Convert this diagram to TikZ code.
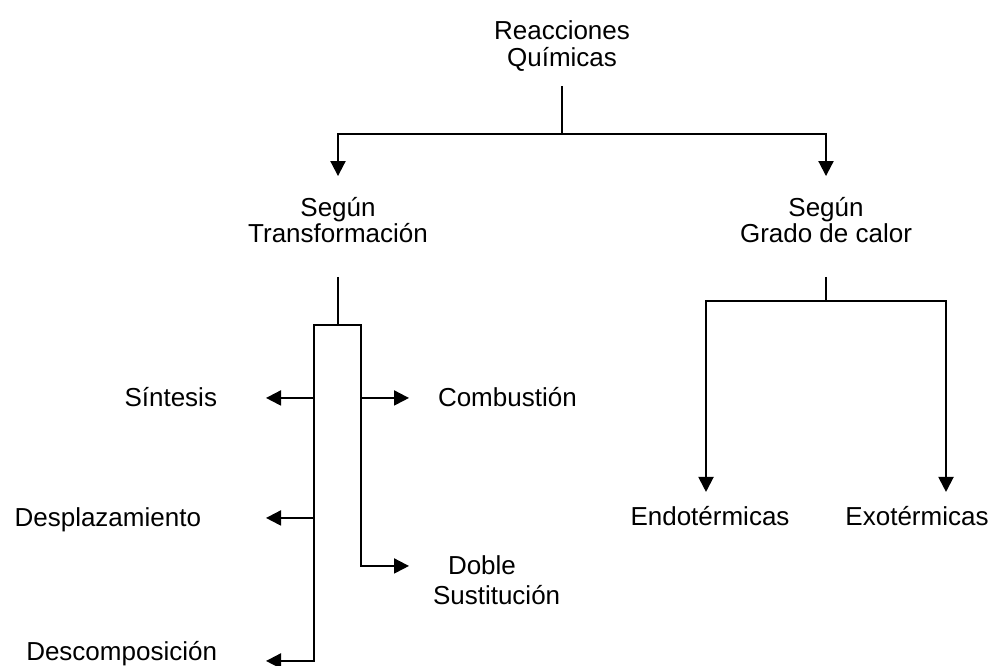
\documentclass[tikz,border=0pt]{standalone}
\usepackage{fontspec}
\setmainfont{Liberation Sans}
\usetikzlibrary{positioning}
\usetikzlibrary{arrows.meta}

\begin{document}
\begin{tikzpicture}
[
x=0.5pt, y=-0.5pt,
line width=1pt,
txt/.style={inner sep=0pt, font=\fontsize{13}{13.25}\selectfont, align=center},
arr/.style={-{Triangle[length=7.5pt,width=7.5pt]}}
]
\useasboundingbox (0,0) rectangle (994,665);

\node[txt] (rq) at (562,46) {Reacciones\\Químicas};
\node[txt] (st) at (338,220) {Según\\Transformación};
\node[txt] (sg) at (826,220) {Según\\Grado de calor};

\node[txt, anchor=base east] (sin) at (218,406) {Síntesis};
\node[txt, anchor=base west] (com) at (437,406) {Combustión};
\node[txt, anchor=base east] (des) at (202,526) {Desplazamiento};
\node[txt, anchor=north west, align=left, font=\fontsize{13}{15}\selectfont] (dob) at (432,555) {\hspace{7.5pt}Doble\\Sustitución};
\node[txt, anchor=base east] (dsc) at (218,660) {Descomposición};
\node[txt, anchor=base] (endo) at (710,525) {Endotérmicas};
\node[txt, anchor=base] (exo) at (917,525) {Exotérmicas};

% first level
\draw (rq.south) ++(0,14) -- ++(0,48) coordinate (ja);
\draw[arr, shorten >=10pt] (ja) -| (st.north);
\draw[arr, shorten >=10pt] (ja) -| (sg.north);

% segun transformacion
\draw (st.south) ++(0,33) -- ++(0,48) coordinate (jb);
\draw[arr] (jb) -- ++(-24,0) coordinate (bl) -- ++(0,336) -- ++(-48,0);
\draw[arr] (jb) -- ++(23,0) coordinate (br) -- ++(0,241) -- ++(48,0);
\draw[arr] (bl) ++(0,73) -- ++(-48,0);
\draw[arr] (bl) ++(0,193) -- ++(-48,0);
\draw[arr] (br) ++(0,73) -- ++(48,0);

% segun grado de calor
\draw (sg.south) ++(0,33) -- ++(0,24) coordinate (jc);
\draw[arr] (jc) -- ++(-120,0) -- ++(0,191);
\draw[arr] (jc) -- ++(120,0) -- ++(0,191);
\end{tikzpicture}
\end{document}
